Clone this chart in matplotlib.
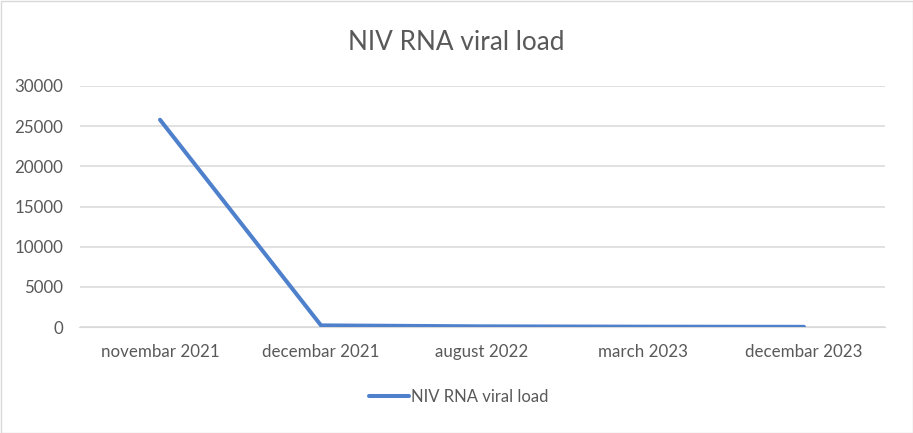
import matplotlib.pyplot as plt

# data
months = ["novembar 2021", "decembar 2021", "august 2022", "march 2023", "decembar 2023"]
viral_load = [25800, 200, 80, 40, 20]
series_name = "NIV RNA viral load"
y_ticks = [0, 5000, 10000, 15000, 20000, 25000, 30000]

plt.rcParams['font.family'] = ['Lato', 'DejaVu Sans']
text_color = "#595959"

fig = plt.figure(figsize=(9.13, 4.33), dpi=100)
fig.patch.set_facecolor("white")
ax = fig.add_axes([79.5 / 913, 1 - 327 / 433, (884.5 - 79.5) / 913, (327 - 86) / 433])

x = list(range(len(months)))
line, = ax.plot(x, viral_load, color="#4e80cc", lw=2.9, solid_capstyle="round",
                solid_joinstyle="round", label=series_name, zorder=3)

ax.set_xlim(-0.5, len(months) - 0.5)
ax.set_ylim(0, 30000)
ax.set_yticks(y_ticks)
ax.set_yticklabels([str(v) for v in y_ticks])
ax.set_xticks(x)
ax.set_xticklabels(months)
ax.grid(axis="y", color="#d9d9d9", lw=1.1)
ax.set_axisbelow(True)
for s in ax.spines.values():
    s.set_visible(False)
ax.spines["bottom"].set_visible(True)
ax.spines["bottom"].set_color("#d9d9d9")
ax.tick_params(length=0, colors=text_color, labelsize=12.2)
ax.tick_params(axis="x", pad=12.5)
ax.tick_params(axis="y", pad=11.5)

fig.text(456 / 913, 1 - 43 / 433, "NIV RNA viral load", ha="center", va="center",
         fontsize=18.8, color=text_color)

fig.legend(handles=[line], loc="center", bbox_to_anchor=(459 / 913, 1 - 397 / 433),
           frameon=False, fontsize=12, labelcolor=text_color, handlelength=2.4,
           handletextpad=0.1)

# figure border
fig.add_artist(plt.Rectangle((0.5 / 913, 0.5 / 433), 1 - 1 / 913, 1 - 1 / 433,
                             transform=fig.transFigure, fill=False, ec="#d9d9d9", lw=1))

fig.savefig("out.png", dpi=100)
